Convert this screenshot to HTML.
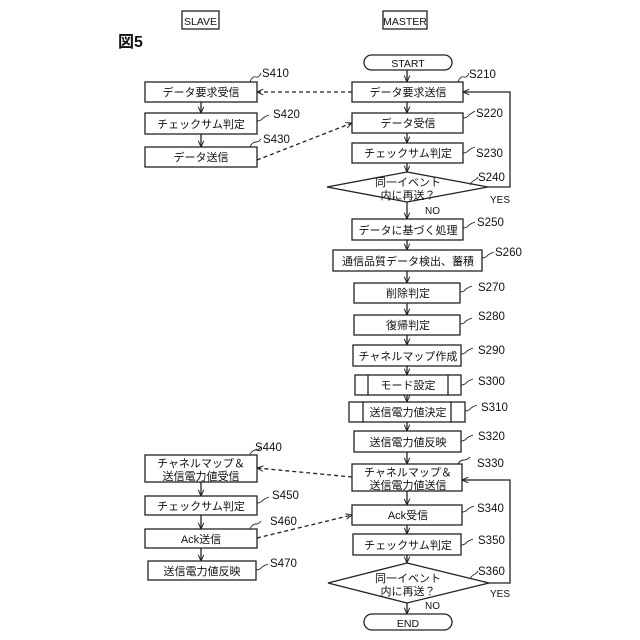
<!DOCTYPE html>
<html><head><meta charset="utf-8"><style>
html,body{margin:0;padding:0;background:#fff;}
svg{display:block}
text{font-family:"Liberation Sans","Noto Sans CJK JP",sans-serif;fill:#111;}
.b{font-size:11px;text-anchor:middle;}
.l{font-size:11.5px;font-family:"Liberation Sans Narrow","Liberation Sans",sans-serif;}
</style></head><body>
<svg width="640" height="640" viewBox="0 0 640 640" xmlns="http://www.w3.org/2000/svg">
<defs>
<marker id="a" viewBox="0 0 10 10" refX="9" refY="5" markerWidth="7" markerHeight="7" orient="auto-start-reverse" markerUnits="userSpaceOnUse"><path d="M0,1 L9,5 L0,9" fill="none" stroke="#222" stroke-width="1.4"/></marker>
</defs>
<g fill="none" stroke="#222" stroke-width="1.3">
<!-- headers -->
<rect x="182" y="11" width="37" height="18"/>
<rect x="383" y="11" width="44" height="18"/>
<!-- master -->
<rect x="364" y="55" width="88" height="15" rx="7.5"/>
<rect x="352" y="82" width="111" height="20"/>
<rect x="352" y="113" width="111" height="20"/>
<rect x="352" y="143" width="111" height="20"/>
<polygon points="407,172 488,187 407,202 327,187"/>
<rect x="352" y="219" width="111" height="21"/>
<rect x="333" y="250" width="149" height="21"/>
<rect x="354" y="283" width="106" height="20"/>
<rect x="354" y="315" width="106" height="20"/>
<rect x="353" y="345" width="108" height="21"/>
<rect x="355" y="375" width="106" height="20"/><line x1="368" y1="375" x2="368" y2="395"/><line x1="448" y1="375" x2="448" y2="395"/>
<rect x="349" y="402" width="116" height="20"/><line x1="363" y1="402" x2="363" y2="422"/><line x1="451" y1="402" x2="451" y2="422"/>
<rect x="354" y="431" width="107" height="21"/>
<rect x="352" y="464" width="110" height="27"/>
<rect x="352" y="505" width="110" height="20"/>
<rect x="353" y="534" width="108" height="21"/>
<polygon points="407,563 489,583 407,603 328,583"/>
<rect x="364" y="614" width="88" height="16" rx="8"/>
<!-- master arrows -->
<line x1="407" y1="70" x2="407" y2="82" marker-end="url(#a)"/>
<line x1="407" y1="102" x2="407" y2="113" marker-end="url(#a)"/>
<line x1="407" y1="133" x2="407" y2="143" marker-end="url(#a)"/>
<line x1="407" y1="163" x2="407" y2="172" marker-end="url(#a)"/>
<line x1="407" y1="202" x2="407" y2="219" marker-end="url(#a)"/>
<line x1="407" y1="240" x2="407" y2="250" marker-end="url(#a)"/>
<line x1="407" y1="271" x2="407" y2="283" marker-end="url(#a)"/>
<line x1="407" y1="303" x2="407" y2="315" marker-end="url(#a)"/>
<line x1="407" y1="335" x2="407" y2="345" marker-end="url(#a)"/>
<line x1="407" y1="366" x2="407" y2="375" marker-end="url(#a)"/>
<line x1="407" y1="395" x2="407" y2="402" marker-end="url(#a)"/>
<line x1="407" y1="422" x2="407" y2="431" marker-end="url(#a)"/>
<line x1="407" y1="452" x2="407" y2="464" marker-end="url(#a)"/>
<line x1="407" y1="491" x2="407" y2="505" marker-end="url(#a)"/>
<line x1="407" y1="525" x2="407" y2="534" marker-end="url(#a)"/>
<line x1="407" y1="555" x2="407" y2="563" marker-end="url(#a)"/>
<line x1="407" y1="603" x2="407" y2="614" marker-end="url(#a)"/>
<polyline points="488,187 510,187 510,92 463,92" marker-end="url(#a)"/>
<polyline points="489,583 510,583 510,480 462,480" marker-end="url(#a)"/>
<!-- slave -->
<rect x="145" y="82" width="112" height="20"/>
<rect x="145" y="113" width="112" height="21"/>
<rect x="145" y="147" width="112" height="20"/>
<rect x="145" y="455" width="112" height="27"/>
<rect x="145" y="496" width="112" height="19"/>
<rect x="145" y="529" width="112" height="19"/>
<rect x="148" y="561" width="108" height="19"/>
<line x1="201" y1="102" x2="201" y2="113" marker-end="url(#a)"/>
<line x1="201" y1="134" x2="201" y2="147" marker-end="url(#a)"/>
<line x1="201" y1="482" x2="201" y2="496" marker-end="url(#a)"/>
<line x1="201" y1="515" x2="201" y2="529" marker-end="url(#a)"/>
<line x1="201" y1="548" x2="201" y2="561" marker-end="url(#a)"/>
<!-- dashed -->
<g stroke-dasharray="4,3">
<line x1="352" y1="92" x2="257" y2="92" marker-end="url(#a)"/>
<line x1="257" y1="160" x2="352" y2="123" marker-end="url(#a)"/>
<line x1="352" y1="477" x2="257" y2="468" marker-end="url(#a)"/>
<line x1="257" y1="538" x2="352" y2="515" marker-end="url(#a)"/>
</g>
<!-- leaders -->
<g stroke-width="0.9">
<path d="M458,82 q2,-6 6,-5 q3,1 5,-4"/>
<path d="M463,118 q4,0 6,-3 q3,-2 6,-4"/>
<path d="M463,153 q4,0 6,-3 q3,-2 6,-3"/>
<path d="M470,185 q2,-4 5,-5 q2,-1 3,-3"/>
<path d="M463,228 q4,0 6,-3 q3,-2 6,-3"/>
<path d="M482,258 q4,0 6,-3 q3,-2 6,-3"/>
<path d="M460,292 q4,0 6,-3 q3,-2 6,-3"/>
<path d="M460,324 q4,0 6,-3 q3,-2 6,-3"/>
<path d="M461,354 q4,0 6,-3 q3,-2 6,-3"/>
<path d="M461,385 q4,0 6,-3 q3,-2 6,-3"/>
<path d="M465,411 q4,0 6,-3 q3,-2 6,-3"/>
<path d="M461,441 q4,0 6,-3 q3,-2 6,-3"/>
<path d="M458,464 q2,-4 6,-4 q3,0 6,-3"/>
<path d="M462,512 q4,0 6,-3 q3,-2 6,-3"/>
<path d="M461,545 q4,0 6,-3 q3,-2 6,-3"/>
<path d="M470,579 q2,-4 5,-5 q2,-1 3,-3"/>
<path d="M250,82 q2,-6 6,-5 q3,1 5,-4"/>
<path d="M257,121 q4,0 6,-3 q3,-2 6,-3"/>
<path d="M250,147 q2,-5 6,-5 q3,0 5,-3"/>
<path d="M250,455 q2,-5 6,-5 q3,0 5,-3"/>
<path d="M257,503 q4,0 6,-3 q3,-2 6,-3"/>
<path d="M250,529 q2,-5 6,-5 q3,0 5,-3"/>
<path d="M256,570 q4,0 6,-3 q3,-2 6,-3"/>
</g>
</g>
<!-- text -->
<text x="200.5" y="25" class="b" style="font-size:10.5px">SLAVE</text>
<text x="405" y="25" class="b" style="font-size:10.5px">MASTER</text>
<text x="118" y="47" style="font-size:16px;font-weight:bold;font-family:'Liberation Sans','Noto Sans CJK JP',sans-serif">図5</text>
<text x="408" y="67" class="b" style="font-size:10.5px">START</text>
<text x="408" y="96" class="b">データ要求送信</text>
<text x="408" y="127" class="b">データ受信</text>
<text x="408" y="157" class="b">チェックサム判定</text>
<text x="408" y="186" class="b">同一イベント</text>
<text x="408" y="199" class="b">内に再送？</text>
<text x="425" y="214" style="font-size:10px">NO</text>
<text x="490" y="203" style="font-size:10px">YES</text>
<text x="408" y="234" class="b">データに基づく処理</text>
<text x="408" y="265" class="b">通信品質データ検出、蓄積</text>
<text x="408" y="297" class="b">削除判定</text>
<text x="408" y="329" class="b">復帰判定</text>
<text x="408" y="360" class="b">チャネルマップ作成</text>
<text x="408" y="389" class="b">モード設定</text>
<text x="408" y="416" class="b">送信電力値決定</text>
<text x="408" y="446" class="b">送信電力値反映</text>
<text x="408" y="476" class="b">チャネルマップ＆</text>
<text x="408" y="489" class="b">送信電力値送信</text>
<text x="408" y="519" class="b">Ack受信</text>
<text x="408" y="549" class="b">チェックサム判定</text>
<text x="408" y="582" class="b">同一イベント</text>
<text x="408" y="595" class="b">内に再送？</text>
<text x="425" y="609" style="font-size:10px">NO</text>
<text x="490" y="597" style="font-size:10px">YES</text>
<text x="408" y="627" class="b" style="font-size:10.5px">END</text>
<text x="201" y="96" class="b">データ要求受信</text>
<text x="201" y="128" class="b">チェックサム判定</text>
<text x="201" y="161" class="b">データ送信</text>
<text x="201" y="467" class="b">チャネルマップ＆</text>
<text x="201" y="480" class="b">送信電力値受信</text>
<text x="201" y="510" class="b">チェックサム判定</text>
<text x="201" y="543" class="b">Ack送信</text>
<text x="202" y="575" class="b">送信電力値反映</text>
<g class="l">
<text x="469" y="78" class="l">S210</text>
<text x="476" y="117" class="l">S220</text>
<text x="476" y="157" class="l">S230</text>
<text x="478" y="181" class="l">S240</text>
<text x="477" y="226" class="l">S250</text>
<text x="495" y="256" class="l">S260</text>
<text x="478" y="291" class="l">S270</text>
<text x="478" y="320" class="l">S280</text>
<text x="478" y="354" class="l">S290</text>
<text x="478" y="385" class="l">S300</text>
<text x="481" y="411" class="l">S310</text>
<text x="478" y="440" class="l">S320</text>
<text x="477" y="467" class="l">S330</text>
<text x="477" y="512" class="l">S340</text>
<text x="478" y="544" class="l">S350</text>
<text x="478" y="575" class="l">S360</text>
<text x="262" y="77" class="l">S410</text>
<text x="273" y="118" class="l">S420</text>
<text x="263" y="143" class="l">S430</text>
<text x="255" y="451" class="l">S440</text>
<text x="272" y="499" class="l">S450</text>
<text x="270" y="525" class="l">S460</text>
<text x="270" y="567" class="l">S470</text>
</g>
</svg>
</body></html>
